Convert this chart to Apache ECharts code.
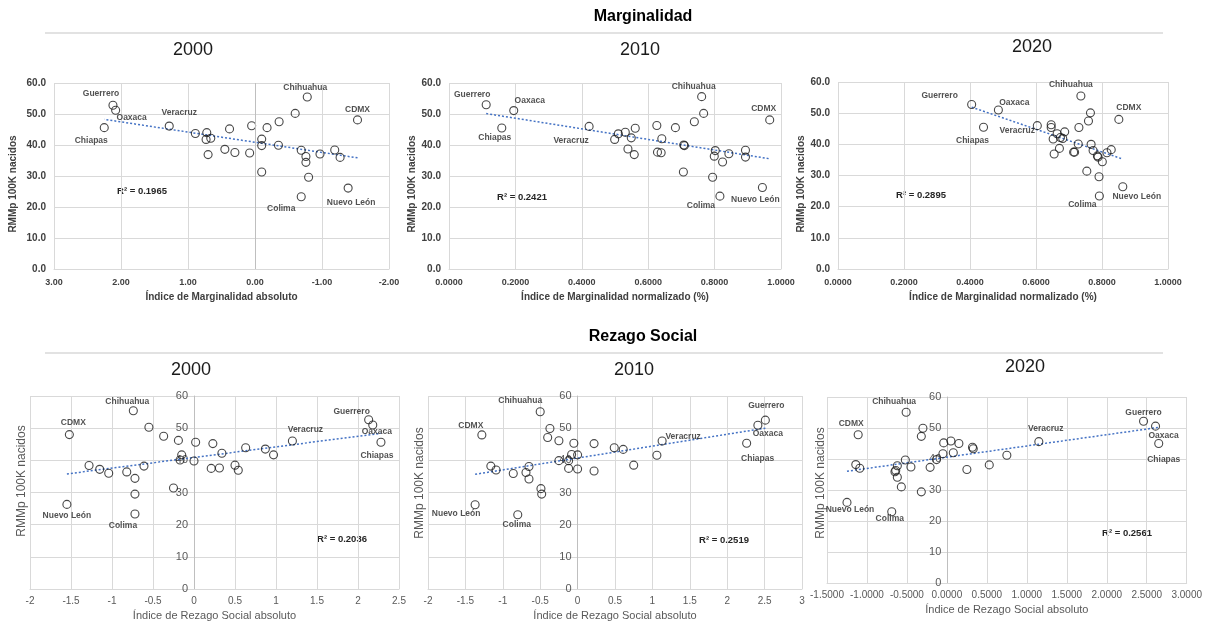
<!DOCTYPE html>
<html><head><meta charset="utf-8">
<script src="https://cdn.jsdelivr.net/npm/echarts@6/dist/echarts.min.js"></script>
<style>html,body{margin:0;padding:0;background:#fff}#c{width:1205px;height:625px}</style>
</head><body><div id="c"></div>
<script>
// ---------- DATA ----------
const SECTION_TITLES = ['Marginalidad', 'Rezago Social'];
const YEARS = ['2000', '2010', '2020'];
const Y_NAME = 'RMMp 100K nacidos';
const X_NAMES = ['Índice de Marginalidad absoluto', 'Índice de Marginalidad normalizado (%)', 'Índice de Marginalidad normalizado (%)',
                 'Índice de Rezago Social absoluto', 'Índice de Rezago Social absoluto', 'Índice de Rezago Social absoluto'];
const R2_TEXTS = ['R² = 0.1965', 'R² = 0.2421', 'R² = 0.2895', 'R² = 0.2036', 'R² = 0.2519', 'R² = 0.2561'];

// Marginalidad 2000 (absolute index)
const M2000_X = [2.12, 2.08, 2.25, 1.28, 0.89, 0.72, 0.73, 0.66, 0.70, 0.38, 0.45, 0.30, 0.08, 0.05, -0.10, -0.10, -0.10, -0.18, -0.36, -0.35, -0.60, -0.78, -0.69, -0.76, -0.76, -0.80, -0.69, -0.97, -1.19, -1.27, -1.39, -1.53];
const M2000_Y = [52.8, 51.2, 45.6, 46.1, 43.7, 44.0, 41.8, 42.2, 36.9, 45.2, 38.6, 37.6, 37.4, 46.2, 41.9, 39.8, 31.3, 45.6, 47.5, 39.9, 50.2, 55.5, 38.3, 36.3, 34.4, 29.6, 23.3, 37.1, 38.4, 36.0, 26.1, 48.1];
const M2000_NAMES = {0: 'Guerrero', 1: 'Oaxaca', 2: 'Chiapas', 3: 'Veracruz', 21: 'Chihuahua', 26: 'Colima', 30: 'Nuevo León', 31: 'CDMX'};

// Marginalidad 2010 (normalized)
const M2010_X = [0.112, 0.195, 0.159, 0.422, 0.499, 0.510, 0.531, 0.549, 0.561, 0.539, 0.558, 0.626, 0.628, 0.639, 0.641, 0.682, 0.707, 0.709, 0.706, 0.739, 0.767, 0.761, 0.802, 0.799, 0.824, 0.794, 0.816, 0.843, 0.893, 0.893, 0.944, 0.966];
const M2010_Y = [53.0, 51.1, 45.5, 46.0, 41.8, 43.6, 44.1, 42.3, 45.4, 38.7, 36.9, 46.3, 37.7, 37.5, 42.0, 45.6, 40.0, 39.8, 31.3, 47.5, 50.2, 55.6, 38.2, 36.4, 34.5, 29.6, 23.5, 37.2, 38.3, 36.1, 26.3, 48.1];
const M2010_NAMES = {0: 'Guerrero', 1: 'Oaxaca', 2: 'Chiapas', 3: 'Veracruz', 21: 'Chihuahua', 26: 'Colima', 30: 'Nuevo León', 31: 'CDMX'};

// Marginalidad 2020 (normalized)
const M2020_X = [0.405, 0.486, 0.441, 0.604, 0.646, 0.646, 0.664, 0.687, 0.652, 0.674, 0.681, 0.671, 0.655, 0.730, 0.728, 0.714, 0.717, 0.754, 0.759, 0.765, 0.736, 0.767, 0.773, 0.786, 0.788, 0.801, 0.791, 0.792, 0.815, 0.828, 0.863, 0.851];
const M2020_Y = [52.8, 51.0, 45.5, 46.0, 46.3, 45.4, 43.4, 44.0, 41.7, 42.2, 41.9, 38.7, 36.9, 45.4, 40.1, 37.5, 37.5, 31.4, 47.5, 50.1, 55.5, 40.0, 38.0, 36.3, 35.9, 34.4, 29.6, 23.4, 37.3, 38.3, 26.4, 48.0];
const M2020_NAMES = {0: 'Guerrero', 1: 'Oaxaca', 2: 'Chiapas', 3: 'Veracruz', 20: 'Chihuahua', 27: 'Colima', 30: 'Nuevo León', 31: 'CDMX'};

// Rezago Social 2000
const R2000_X = [2.13, 2.18, 2.28, 1.20, 0.87, 0.97, 0.63, 0.50, 0.54, 0.34, 0.31, 0.21, 0.23, 0.02, 0.00, -0.15, -0.17, -0.19, -0.25, -0.37, -0.55, -0.74, -0.61, -0.72, -0.72, -0.72, -0.82, -1.04, -1.15, -1.28, -1.52, -1.55];
const R2000_Y = [52.6, 51.0, 45.6, 46.0, 43.5, 41.7, 43.9, 38.5, 36.9, 42.2, 37.6, 37.5, 45.2, 45.6, 39.8, 41.7, 40.1, 46.2, 31.4, 47.5, 50.3, 55.4, 38.2, 34.4, 29.5, 23.3, 36.4, 36.0, 37.2, 38.4, 48.0, 26.3];
const R2000_NAMES = {0: 'Guerrero', 1: 'Oaxaca', 2: 'Chiapas', 3: 'Veracruz', 21: 'Chihuahua', 25: 'Colima', 30: 'CDMX', 31: 'Nuevo León'};

// Rezago Social 2010
const R2010_X = [2.51, 2.41, 2.26, 1.13, 1.06, 0.61, 0.49, 0.75, 0.22, 0.22, 0.00, 0.00, -0.05, -0.08, -0.12, -0.12, -0.25, -0.25, -0.40, -0.37, -0.50, -0.49, -0.48, -0.65, -0.65, -0.69, -0.80, -0.86, -1.09, -1.16, -1.28, -1.37];
const R2010_Y = [52.5, 50.9, 45.3, 46.0, 41.6, 43.4, 43.9, 38.5, 45.2, 36.7, 41.7, 37.3, 45.3, 41.8, 37.5, 39.9, 46.1, 39.9, 47.1, 49.9, 55.1, 31.2, 29.5, 38.1, 34.2, 36.2, 23.1, 35.9, 37.0, 38.2, 47.9, 26.2];
const R2010_NAMES = {0: 'Guerrero', 1: 'Oaxaca', 2: 'Chiapas', 3: 'Veracruz', 20: 'Chihuahua', 26: 'Colima', 30: 'CDMX', 31: 'Nuevo León'};

// Rezago Social 2020
const R2020_X = [2.46, 2.61, 2.65, 1.15, 0.75, 0.53, 0.32, 0.33, 0.25, 0.15, 0.08, 0.05, -0.04, -0.05, -0.13, -0.21, -0.30, -0.32, -0.32, -0.51, -0.52, -0.45, -0.57, -0.62, -0.64, -0.65, -0.62, -0.69, -1.09, -1.14, -1.11, -1.25];
const R2020_Y = [52.2, 50.6, 45.0, 45.6, 41.2, 38.1, 43.8, 43.3, 36.6, 45.0, 42.0, 45.8, 45.2, 41.7, 39.8, 37.3, 49.9, 47.3, 29.4, 55.1, 39.7, 37.4, 31.0, 37.8, 36.3, 35.9, 34.1, 23.0, 37.0, 38.2, 47.8, 26.0];
const R2020_NAMES = {0: 'Guerrero', 1: 'Oaxaca', 2: 'Chiapas', 3: 'Veracruz', 19: 'Chihuahua', 27: 'Colima', 30: 'CDMX', 31: 'Nuevo León'};

// ---------- LAYOUT / STYLE ----------
const FONT = 'Liberation Sans';
const GRID_C = '#d9d9d9', ZERO_C = '#bfbfbf', TXT = '#595959', LBL = '#262626';

// label offsets (px) relative to point center, per panel
const OFFS = [
  {Guerrero: [-12, -12], Oaxaca: [16, 7], Chiapas: [-13, 13], Veracruz: [10, -13], Chihuahua: [-2, -9], CDMX: [0, -10], Colima: [-20, 12], 'Nuevo León': [3, 15]},
  {Guerrero: [-14, -10], Oaxaca: [16, -10], Chiapas: [-7, 10], Veracruz: [-18, 14], Chihuahua: [-8, -10], CDMX: [-6, -11], Colima: [-19, 10], 'Nuevo León': [-7, 12]},
  {Guerrero: [-32, -9], Oaxaca: [16, -7], Chiapas: [-11, 13], Veracruz: [-20, 5], Chihuahua: [-10, -11], CDMX: [10, -12], Colima: [-17, 9], 'Nuevo León': [14, 10]},
  {Guerrero: [-17, -8], Oaxaca: [4, 7], Chiapas: [-4, 13], Veracruz: [13, -11], Chihuahua: [-6, -9], CDMX: [4, -12], Colima: [-12, 12], 'Nuevo León': [0, 11]},
  {Guerrero: [1, -14], Oaxaca: [10, 8], Chiapas: [11, 15], Veracruz: [21, -4], Chihuahua: [-20, -11], CDMX: [-11, -9], Colima: [-1, 10], 'Nuevo León': [-19, 9]},
  {Guerrero: [0, -9], Oaxaca: [8, 10], Chiapas: [5, 16], Veracruz: [7, -13], Chihuahua: [-12, -11], CDMX: [-7, -11], Colima: [-2, 7], 'Nuevo León': [3, 7]}
];

const PANELS = [
  {xs: M2000_X, ys: M2000_Y, names: M2000_NAMES, grid: {left: 54, top: 83, width: 335, height: 186}, xmin: -2, xmax: 3, xint: 1, inverse: true, xfmt: v => v.toFixed(2), top: true, zeroLine: true, r2: [142, 191], yname: [13, 184]},
  {xs: M2010_X, ys: M2010_Y, names: M2010_NAMES, grid: {left: 449, top: 83, width: 332, height: 186}, xmin: 0, xmax: 1, xint: 0.2, xfmt: v => v.toFixed(4), top: true, r2: [522, 197], yname: [412, 184]},
  {xs: M2020_X, ys: M2020_Y, names: M2020_NAMES, grid: {left: 838, top: 82, width: 330, height: 187}, xmin: 0, xmax: 1, xint: 0.2, xfmt: v => v.toFixed(4), top: true, r2: [921, 195], yname: [801, 184]},
  {xs: R2000_X, ys: R2000_Y, names: R2000_NAMES, grid: {left: 30, top: 396, width: 369, height: 193}, xmin: -2, xmax: 2.5, xint: 0.5, xfmt: v => String(v), top: false, r2: [342, 539], yname: [22, 481]},
  {xs: R2010_X, ys: R2010_Y, names: R2010_NAMES, grid: {left: 428, top: 396, width: 374, height: 193}, xmin: -2, xmax: 3, xint: 0.5, xfmt: v => String(v), top: false, r2: [724, 540], yname: [420, 483]},
  {xs: R2020_X, ys: R2020_Y, names: R2020_NAMES, grid: {left: 827, top: 397, width: 361, height: 186}, xmin: -1.5, xmax: 3, xint: 0.5, xfmt: v => v.toFixed(4), top: false, r2: [1127, 533], yname: [821, 483]}
];

function fit(xs, ys) {
  const n = xs.length;
  let sx = 0, sy = 0, sxx = 0, sxy = 0;
  for (let i = 0; i < n; i++) { sx += xs[i]; sy += ys[i]; sxx += xs[i] * xs[i]; sxy += xs[i] * ys[i]; }
  const b = (n * sxy - sx * sy) / (n * sxx - sx * sx);
  const a = (sy - b * sx) / n;
  const lo = Math.min(...xs), hi = Math.max(...xs);
  return [[lo, a + b * lo], [hi, a + b * hi]];
}

const grids = [], xAxes = [], yAxes = [], series = [], graphics = [];
PANELS.forEach((p, i) => {
  grids.push(Object.assign({containLabel: false}, p.grid));
  xAxes.push({
    type: 'value', gridIndex: i, min: p.xmin, max: p.xmax, interval: p.xint, inverse: !!p.inverse,
    name: X_NAMES[i], nameLocation: 'middle', nameGap: p.top ? 23 : 21,
    nameTextStyle: {fontFamily: FONT, fontSize: p.top ? 10 : 11, fontWeight: p.top ? 'bold' : 'normal', color: p.top ? '#404040' : TXT},
    axisLine: {show: true, onZero: false, lineStyle: {color: GRID_C, width: 1}},
    axisTick: {show: false},
    axisLabel: {formatter: p.xfmt, fontFamily: FONT, fontSize: p.top ? 9 : 10, fontWeight: p.top ? 'bold' : 'normal', color: p.top ? '#404040' : TXT, margin: p.top ? 9 : 7, showMinLabel: true, showMaxLabel: true},
    splitLine: {show: true, lineStyle: {color: GRID_C, width: 1}}
  });
  // bottom panels: vertical axis (with its labels) sits at x = 0
  const zeroOffset = p.top ? 0 : -p.grid.width * (0 - p.xmin) / (p.xmax - p.xmin);
  yAxes.push({
    type: 'value', gridIndex: i, min: 0, max: 60, interval: 10, position: 'left', offset: zeroOffset,
    axisLine: p.top ? {show: false} : {show: true, onZero: false, lineStyle: {color: ZERO_C, width: 1}},
    axisTick: {show: false},
    axisLabel: {formatter: p.top ? (v => v.toFixed(1)) : (v => String(v)), fontFamily: FONT, fontSize: p.top ? 10 : 11, fontWeight: p.top ? 'bold' : 'normal', color: p.top ? '#404040' : TXT, margin: p.top ? 8 : 6},
    splitLine: {show: true, lineStyle: {color: GRID_C, width: 1}}
  });
  const data = p.xs.map((x, k) => {
    const nm = p.names[k];
    const d = {value: [x, p.ys[k]]};
    if (nm) {
      const o = OFFS[i][nm];
      d.name = nm;
      d.label = {show: true, formatter: nm, position: 'inside', offset: o, fontFamily: FONT, fontSize: 8.5, fontWeight: 'bold', color: LBL};
    }
    return d;
  });
  const sc = {
    type: 'scatter', xAxisIndex: i, yAxisIndex: i, data: data, symbol: 'circle', symbolSize: 8, z: 3,
    itemStyle: {color: 'rgba(255,255,255,0)', borderColor: '#1a1a1a', borderWidth: 1.1},
    label: {show: false}, emphasis: {disabled: true}, silent: true
  };
  if (p.zeroLine) {
    sc.markLine = {silent: true, symbol: 'none', label: {show: false}, lineStyle: {color: ZERO_C, type: 'solid', width: 1}, data: [{xAxis: 0}]};
  }
  series.push(sc);
  series.push({
    type: 'line', xAxisIndex: i, yAxisIndex: i, data: fit(p.xs, p.ys), symbol: 'none', z: 2, silent: true,
    lineStyle: {color: '#4472c4', type: [2, 2], width: 1.5}
  });
  graphics.push({type: 'text', x: p.r2[0], y: p.r2[1], style: {text: R2_TEXTS[i], font: 'bold 9.5px "' + FONT + '"', fill: '#262626', align: 'center', verticalAlign: 'middle'}});
  graphics.push({type: 'text', x: p.yname[0], y: p.yname[1], rotation: Math.PI / 2,
    style: {text: Y_NAME, font: (p.top ? 'bold 10px ' : '12px ') + '"' + FONT + '"', fill: p.top ? '#404040' : TXT, align: 'center', verticalAlign: 'middle'}});
});

// section titles, separators, year titles
const secY = [[17, 33, 50], [337, 353, 370]];
const yearX = [[193, 640, 1032], [191, 634, 1025]];
const yearDy = [0, 0, -3];
SECTION_TITLES.forEach((t, s) => {
  graphics.push({type: 'text', x: 643, y: secY[s][0], style: {text: t, font: 'bold 16px "' + FONT + '"', fill: '#000', align: 'center', verticalAlign: 'middle'}});
  graphics.push({type: 'line', shape: {x1: 45, y1: secY[s][1], x2: 1163, y2: secY[s][1]}, style: {stroke: GRID_C, lineWidth: 1.5}});
  YEARS.forEach((yr, k) => {
    graphics.push({type: 'text', x: yearX[s][k], y: secY[s][2] + yearDy[k], style: {text: yr, font: '18px "' + FONT + '"', fill: '#1a1a1a', align: 'center', verticalAlign: 'middle'}});
  });
});

const chart = echarts.init(document.getElementById('c'), null, {renderer: 'canvas'});
chart.setOption({
  animation: false,
  backgroundColor: '#fff',
  textStyle: {fontFamily: FONT},
  grid: grids, xAxis: xAxes, yAxis: yAxes, series: series, graphic: graphics
});
</script></body></html>
